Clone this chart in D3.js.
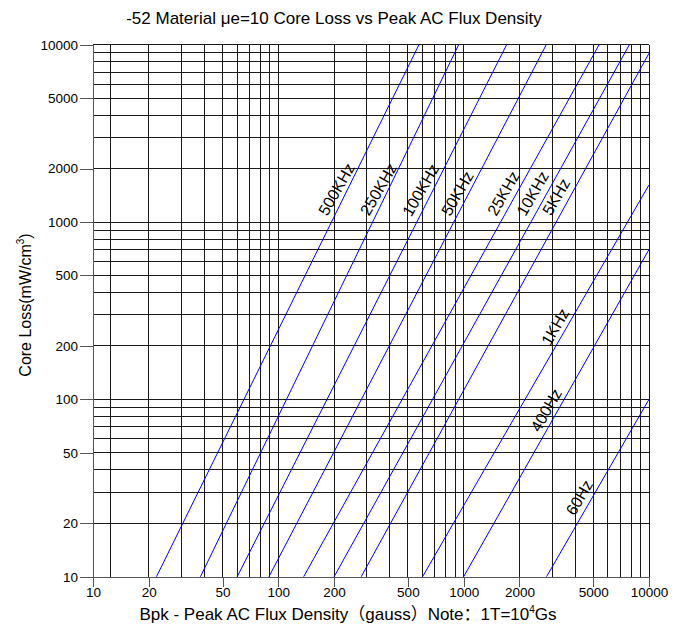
<!DOCTYPE html>
<html>
<head>
<meta charset="utf-8">
<script src="https://cdn.jsdelivr.net/npm/d3@7/dist/d3.min.js"></script>
<style>
  html, body { margin: 0; padding: 0; background: #fff; }
  svg { display: block; }
  text { font-family: Arial, "Liberation Sans", "Noto Sans CJK SC", sans-serif; }
</style>
</head>
<body>
<svg id="chart" width="683" height="628"></svg>
<script>
// ---- data ----
const freqLabels = ["500KHz", "250KHz", "100KHz", "50KHz", "25KHz", "10KHz", "5KHz", "1KHz", "400Hz", "60Hz"];
const startB = [22, 38, 60, 89, 137, 200, 280, 600, 1000, 2800];
const startP = [10, 10, 10, 10, 10, 10, 10, 10, 10, 10];
const endB   = [574, 940, 1706, 2790, 5380, 7835, 10000, 10000, 10000, 10000];
const endP   = [10000, 10000, 10000, 10000, 10000, 10000, 8950, 1620, 700, 100];
const labelB = [206, 347, 586, 924, 1637, 2359, 3153, 3113, 2786, 4208];
const labelP = [1531, 1531, 1517, 1452, 1452, 1452, 1390, 257, 87, 28];

const xTicks = [10, 20, 50, 100, 200, 500, 1000, 2000, 5000, 10000];
const yTicks = [10, 20, 50, 100, 200, 500, 1000, 2000, 5000, 10000];
const xGrid = [12.5, 20, 30, 40, 50, 60, 70, 80, 90, 100, 200, 300, 400, 500, 600, 700, 800, 900, 1000,
               2000, 3000, 4000, 5000, 6000, 7000, 8000, 9000, 10000];
const yGrid = [20, 30, 40, 50, 60, 70, 80, 90, 100, 200, 300, 400, 500, 600, 700, 800, 900, 1000,
               2000, 3000, 4000, 5000, 6000, 7000, 8000, 9000, 10000];

const titleText = "-52 Material μe=10 Core Loss vs Peak AC Flux Density";

// ---- layout ----
const svg = d3.select("#chart");
const pLeft = 93, pRight = 649, pTop = 44.7, pBottom = 576.7;

const x = d3.scaleLog().domain([10, 10000]).range([pLeft, pRight]);
const y = d3.scaleLog().domain([10, 10000]).range([pBottom, pTop]);

// grid
const grid = svg.append("g").attr("shape-rendering", "crispEdges");
grid.selectAll("line.vx").data(xGrid).join("line")
  .attr("x1", d => x(d)).attr("x2", d => x(d))
  .attr("y1", pTop).attr("y2", pBottom)
  .attr("stroke", "#1a1a1a").attr("stroke-width", 1);
grid.selectAll("line.hy").data(yGrid).join("line")
  .attr("x1", pLeft).attr("x2", pRight)
  .attr("y1", d => y(d)).attr("y2", d => y(d))
  .attr("stroke", "#1a1a1a").attr("stroke-width", 1);

// axes
const yAxis = d3.axisLeft(y).tickValues(yTicks).tickFormat(d3.format("d")).tickSize(13).tickSizeOuter(0).tickPadding(2);
const xAxis = d3.axisBottom(x).tickValues(xTicks).tickFormat(d3.format("d")).tickSize(10).tickSizeOuter(0).tickPadding(1);

const gy = svg.append("g").attr("transform", `translate(${pLeft},0)`).call(yAxis);
const gx = svg.append("g").attr("transform", `translate(0,${pBottom})`).call(xAxis);
[gx, gy].forEach(g => {
  g.selectAll("path").attr("stroke", "#555").attr("shape-rendering", "crispEdges");
  g.selectAll("line").attr("stroke", "#555").attr("shape-rendering", "crispEdges");
  g.selectAll("text").attr("fill", "#000").style("font-size", "13.5px")
    .style("font-family", "Arial, 'Liberation Sans', sans-serif");
});

// data lines
const lineIdx = d3.range(freqLabels.length);
svg.append("g").selectAll("line").data(lineIdx).join("line")
  .attr("x1", i => x(startB[i])).attr("y1", i => y(startP[i]))
  .attr("x2", i => x(endB[i])).attr("y2", i => y(endP[i]))
  .attr("stroke", "#0000ff").attr("stroke-width", 1);

// labels
svg.append("g").selectAll("text").data(lineIdx).join("text")
  .attr("transform", i => `translate(${x(labelB[i])},${y(labelP[i])}) rotate(-60)`)
  .attr("text-anchor", "middle").attr("dy", "0.35em")
  .style("font-size", "16px").attr("fill", "#000")
  .text(i => freqLabels[i]);

// title
svg.append("text").attr("x", 334).attr("y", 24).attr("text-anchor", "middle")
  .style("font-size", "17px").attr("fill", "#000").text(titleText);

// y axis title
const yt = svg.append("text").attr("transform", "translate(31,305) rotate(-90)")
  .attr("text-anchor", "middle").style("font-size", "16px").attr("fill", "#000");
yt.append("tspan").text("Core Loss(mW/cm");
yt.append("tspan").attr("dy", -7).style("font-size", "10px").text("3");
yt.append("tspan").attr("dy", 7).text(")");

// x axis title
const xt = svg.append("text").attr("x", 348).attr("y", 620).attr("text-anchor", "middle")
  .style("font-size", "17px").attr("fill", "#000");
xt.append("tspan").text("Bpk - Peak AC Flux Density（gauss）Note：1T=10");
xt.append("tspan").attr("dy", -7).style("font-size", "10px").text("4");
xt.append("tspan").attr("dy", 7).text("Gs");
</script>
</body>
</html>
